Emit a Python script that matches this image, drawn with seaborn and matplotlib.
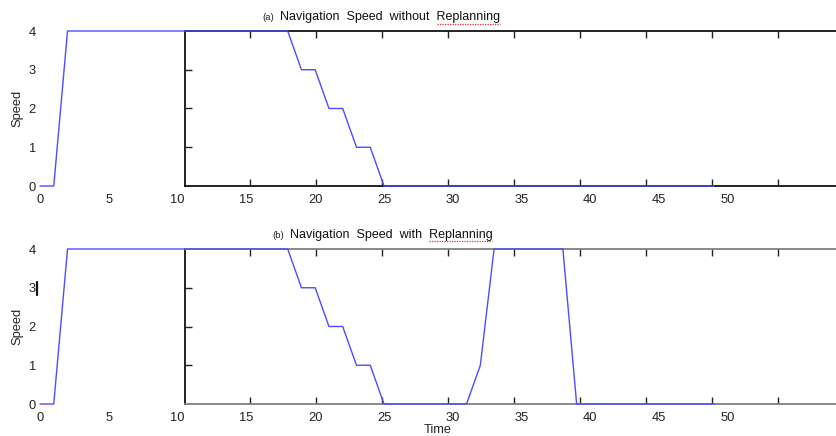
import matplotlib
matplotlib.use("Agg")
import matplotlib.pyplot as plt
from matplotlib.lines import Line2D
import seaborn as sns
import pandas as pd

# ---- data ----
time_a = [0, 1, 2, 18, 19, 20, 21, 22, 23, 24, 25, 49]
speed_a = [0, 0, 4, 4, 3, 3, 2, 2, 1, 1, 0, 0]
time_b = [0, 1, 2, 18, 19, 20, 21, 22, 23, 24, 25, 31, 32, 33, 38, 39, 49]
speed_b = [0, 0, 4, 4, 3, 3, 2, 2, 1, 1, 0, 0, 1, 4, 4, 0, 0]
x_labels = [0, 5, 10, 15, 20, 25, 30, 35, 40, 45, 50]
frame_ticks = [15, 20, 25, 30, 35, 40, 45, 50, 55]
y_labels = [0, 1, 2, 3, 4]
frame_yticks = [1, 2, 3]
title_a_tag, title_a = "(a)", "Navigation  Speed  without  Replanning"
title_b_tag, title_b = "(b)", "Navigation  Speed  with  Replanning"

sns.set_style("white")
plt.rcParams["font.family"] = ["Liberation Sans", "DejaVu Sans"]

W, H = 836, 436
fig = plt.figure(figsize=(W / 100, H / 100), dpi=100)

def fx(px):
    return px / W

def fy(py):
    return 1 - py / H

line_color = "#4d4dff"
FS = 9.3

def panel(top_px, bottom_px, t, v, spine_color, xlabel=None):
    h = fy(top_px) - fy(bottom_px)
    # frame axes (the boxed region with inward ticks)
    axf = fig.add_axes([fx(185), fy(bottom_px), 1 - fx(185), h])
    axf.set_xlim(10.08, 59.39)
    axf.set_ylim(0, 4)
    axf.patch.set_alpha(0)
    axf.set_xticks(frame_ticks)
    axf.set_yticks(frame_yticks)
    axf.tick_params(axis="x", direction="in", length=5, width=1, color="#222222",
                    top=True, bottom=True, labelbottom=False, labeltop=False)
    axf.tick_params(axis="y", direction="in", length=5, width=1, color="#222222",
                    left=True, labelleft=False)
    axf.spines["right"].set_visible(False)
    axf.spines["left"].set_color("#111111")
    axf.spines["top"].set_color(spine_color)
    axf.spines["bottom"].set_color(spine_color)
    for s in ["left", "top", "bottom"]:
        axf.spines[s].set_linewidth(1.3)

    # data axes
    axd = fig.add_axes([fx(40), fy(bottom_px), 1 - fx(40), h])
    axd.set_xlim(0, (836 - 40) / 13.76)
    axd.set_ylim(0, 4)
    axd.patch.set_alpha(0)
    df = pd.DataFrame({"Time": t, "Speed": v})
    sns.lineplot(data=df, x="Time", y="Speed", ax=axd, sort=False, estimator=None,
                 color=line_color, linewidth=1.0)
    for ln in axd.get_lines():
        ln.set_clip_on(False)
    for s in axd.spines.values():
        s.set_visible(False)
    axd.set_xticks(x_labels)
    axd.set_yticks(y_labels)
    axd.tick_params(axis="both", length=0, labelsize=FS, colors="#222222")
    axd.tick_params(axis="x", pad=5.5)
    axd.tick_params(axis="y", pad=3)
    axd.set_ylabel("Speed", fontsize=FS, labelpad=4)
    if xlabel:
        axd.set_xlabel(xlabel, fontsize=FS, labelpad=0.5)
    else:
        axd.set_xlabel("")
    return axd

panel(31, 186, time_a, speed_a, "#111111")
panel(249, 404, time_b, speed_b, "#808080", xlabel="Time")

# titles
fig.text(fx(262), fy(17), title_a_tag, fontsize=6.8, va="center", ha="left", color="#222222")
fig.text(fx(280), fy(17), title_a, fontsize=9.0, va="center", ha="left", color="#111111")
fig.text(fx(272), fy(235), title_b_tag, fontsize=6.8, va="center", ha="left", color="#222222")
fig.text(fx(290), fy(235), title_b, fontsize=9.0, va="center", ha="left", color="#111111")

# spell-check squiggles under "Replanning" and text cursor mark
fig.add_artist(Line2D([fx(437), fx(500)], [fy(24), fy(24)], color="#e03030",
                      linestyle=(0, (1, 1)), linewidth=0.9))
fig.add_artist(Line2D([fx(429), fx(492)], [fy(241), fy(241)], color="#e03030",
                      linestyle=(0, (1, 1)), linewidth=0.9))
fig.add_artist(Line2D([fx(37), fx(37)], [fy(282), fy(295)], color="#111111",
                      linewidth=1.6))

fig.savefig("out.png", dpi=100)
